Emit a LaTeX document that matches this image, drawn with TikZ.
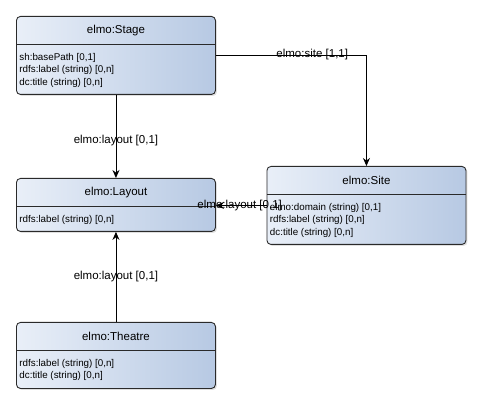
\documentclass[tikz,border=0pt]{standalone}
\usepackage{fontspec}
\setmainfont{Liberation Sans}
\usetikzlibrary{arrows.meta, shadows}
\definecolor{clsleft}{HTML}{E9EFF8}
\definecolor{clsright}{HTML}{B7C9E3}
\definecolor{clsline}{HTML}{2A2A2A}
\tikzset{
  cls/.style  ={draw=clsline, line width=0.9pt, rounded corners=4pt,
                left color=clsleft, right color=clsright, minimum width=199pt,
                inner sep=0pt,
                drop shadow={shadow xshift=1.5pt, shadow yshift=-1.5pt, opacity=0.25}},
  hdr/.style  ={minimum width=199pt, minimum height=28.5pt, inner sep=0pt,
                font=\fontsize{11.5}{13}\selectfont},
  attr/.style ={align=left, inner xsep=3pt, inner ysep=8.5pt,
                font=\fontsize{9.8}{12.2}\selectfont},
  divl/.style ={draw=clsline, line width=0.9pt},
  arr/.style  ={-{Stealth[length=8pt, width=7pt]}, line width=0.9pt},
  lbl/.style  ={font=\fontsize{11.5}{13}\selectfont, inner sep=1pt},
}
\begin{document}
\begin{tikzpicture}[x=1pt, y=-1pt]
  \useasboundingbox[fill=white] (0,0) rectangle (482,403);

  % classes
  \node[cls, minimum height=78pt, anchor=north west] (stage) at (16,16) {};
  \node[hdr, anchor=north] (stageH) at (stage.north) {elmo:Stage};
  \draw[divl] (stageH.south west) -- (stageH.south east);
  \node[attr, anchor=north west] (stageA) at (stageH.south west)
    {sh:basePath [0,1]\\rdfs:label (string) [0,n]\\dc:title (string) [0,n]};

  \node[cls, minimum height=53pt, anchor=north west] (layout) at (16,178) {};
  \node[hdr, anchor=north] (layoutH) at (layout.north) {elmo:Layout};
  \draw[divl] (layoutH.south west) -- (layoutH.south east);
  \node[attr, anchor=north west] (layoutA) at (layoutH.south west)
    {rdfs:label (string) [0,n]};

  \node[cls, minimum height=78pt, anchor=north west] (site) at (266.5,166) {};
  \node[hdr, anchor=north] (siteH) at (site.north) {elmo:Site};
  \draw[divl] (siteH.south west) -- (siteH.south east);
  \node[attr, anchor=north west] (siteA) at (siteH.south west)
    {elmo:domain (string) [0,1]\\rdfs:label (string) [0,n]\\dc:title (string) [0,n]};

  \node[cls, minimum height=66pt, anchor=north west] (theatre) at (16,322) {};
  \node[hdr, anchor=north] (theatreH) at (theatre.north) {elmo:Theatre};
  \draw[divl] (theatreH.south west) -- (theatreH.south east);
  \node[attr, anchor=north west] (theatreA) at (theatreH.south west)
    {rdfs:label (string) [0,n]\\dc:title (string) [0,n]};

  % associations
  \draw[arr] (stage) -- node[lbl, pos=0.55]{elmo:layout [0,1]} (layout);
  \draw[arr] (theatre) -- node[lbl]{elmo:layout [0,1]} (layout);
  \draw[arr] (stage.east) -| node[lbl, pos=0.32, yshift=1pt]{elmo:site [1,1]} (site.north);
  \draw[arr] (site.west) -- node[lbl, pos=0.53]{elmo:layout [0,1]} (site.west -| layout.east);
\end{tikzpicture}
\end{document}
